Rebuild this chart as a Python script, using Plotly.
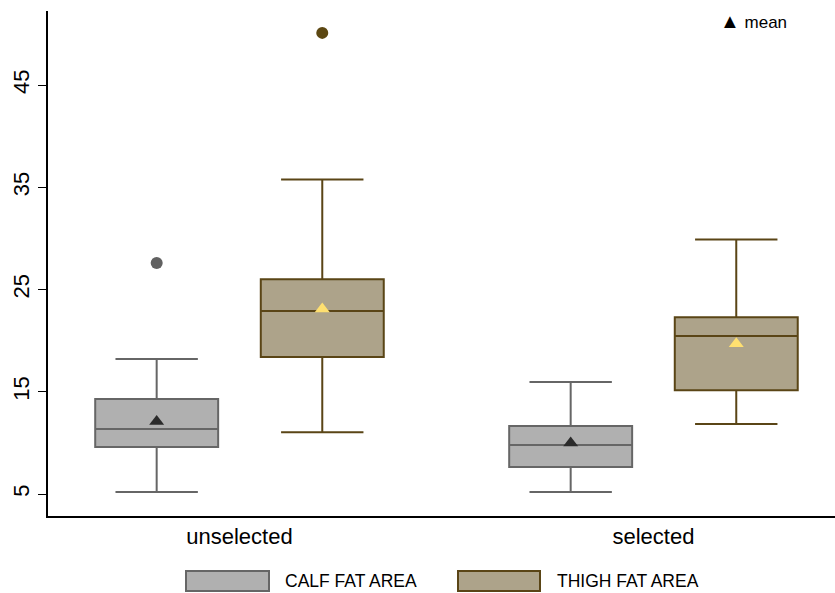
import plotly.graph_objects as go

# ---------------- data ----------------
groups = ["unselected", "selected"]
series_names = ["CALF FAT AREA", "THIGH FAT AREA"]

calf_q1 = [9.6, 7.65]
calf_median = [11.35, 9.8]
calf_q3 = [14.3, 11.65]
calf_lower = [5.2, 5.2]
calf_upper = [18.2, 15.95]
calf_mean = [12.1, 10.0]
calf_outlier_group = ["unselected"]
calf_outlier_value = [27.6]

thigh_q1 = [18.4, 15.15]
thigh_median = [22.9, 20.45]
thigh_q3 = [26.0, 22.3]
thigh_lower = [11.05, 11.85]
thigh_upper = [35.75, 29.9]
thigh_mean = [23.1, 19.7]
thigh_outlier_group = ["unselected"]
thigh_outlier_value = [50.1]

y_ticks = [5, 15, 25, 35, 45]

# ---------------- style ----------------
FONT = "Liberation Sans, Arial, sans-serif"
calf_fill, calf_line = "#b0b0b0", "#666666"
thigh_fill, thigh_line = "#ada38a", "#5a4516"
calf_out_col, thigh_out_col = "#616161", "#5c4712"
calf_mean_col, thigh_mean_col = "#2b2b2b", "#ffe070"

OFFSET = 0.2
BOX_W = 0.297

W, H = 835, 593
ML, MR, MT, MB = 48, 0, 11, 77
PW, PH = W - ML - MR, H - MT - MB


def px_x(px):
    return (px - ML) / PW


def px_y(py):
    return (H - MB - py) / PH


gidx = {g: i for i, g in enumerate(groups)}

fig = go.Figure()

specs = [
    (calf_q1, calf_median, calf_q3, calf_lower, calf_upper, calf_mean,
     calf_outlier_group, calf_outlier_value, calf_fill, calf_line,
     calf_out_col, calf_mean_col, -OFFSET),
    (thigh_q1, thigh_median, thigh_q3, thigh_lower, thigh_upper, thigh_mean,
     thigh_outlier_group, thigh_outlier_value, thigh_fill, thigh_line,
     thigh_out_col, thigh_mean_col, OFFSET),
]

for name, (q1, med, q3, lo, hi, mn, og, ov, fill, line, ocol, mcol, off) in zip(series_names, specs):
    xs = [i + off for i in range(len(groups))]
    fig.add_trace(go.Box(
        name=name, x=xs, q1=q1, median=med, q3=q3,
        lowerfence=lo, upperfence=hi,
        width=BOX_W, whiskerwidth=0.67,
        fillcolor=fill, line=dict(color=line, width=2),
        boxpoints=False, showlegend=False, hoverinfo="skip",
    ))
    fig.add_trace(go.Scatter(
        x=xs, y=mn, mode="markers",
        marker=dict(symbol="triangle-up", size=13, color=mcol),
        showlegend=False, hoverinfo="skip",
    ))
    fig.add_trace(go.Scatter(
        x=[gidx[g] + off for g in og], y=ov, mode="markers",
        marker=dict(symbol="circle", size=12, color=ocol),
        showlegend=False, hoverinfo="skip",
    ))

# custom legend
shapes = []
annotations = []
legend_items = [
    (series_names[0], calf_fill, calf_line, 186, 269, 283),
    (series_names[1], thigh_fill, thigh_line, 458, 540, 555),
]
for name, fill, line, x0, x1, tx in legend_items:
    shapes.append(dict(type="rect", xref="paper", yref="paper",
                       x0=px_x(x0), x1=px_x(x1), y0=px_y(591), y1=px_y(571),
                       fillcolor=fill, line=dict(color=line, width=2)))
    annotations.append(dict(text=name, xref="paper", yref="paper",
                            x=px_x(tx), y=px_y(581), xanchor="left", yanchor="middle",
                            showarrow=False, font=dict(family=FONT, size=17.5, color="black")))

annotations.append(dict(text="<span style='font-size:20px'>▲</span> mean", xref="paper", yref="paper",
                        x=px_x(718), y=px_y(21), xanchor="left", yanchor="middle",
                        showarrow=False, font=dict(family=FONT, size=17, color="black")))

fig.update_layout(
    width=W, height=H,
    margin=dict(l=ML, r=MR, t=MT, b=MB),
    paper_bgcolor="white", plot_bgcolor="white",
    font=dict(family=FONT, color="black"),
    shapes=shapes, annotations=annotations,
    xaxis=dict(range=[-0.4625, 1.4385], tickvals=list(range(len(groups))), ticktext=groups,
               showgrid=False, zeroline=False, showline=True, linecolor="black", linewidth=1.5,
               ticks="", tickfont=dict(size=22, family=FONT, color="black")),
    yaxis=dict(range=[2.85, 52.24], tickvals=y_ticks, tickangle=-90,
               showgrid=False, zeroline=False, showline=True, linecolor="black", linewidth=1.5,
               ticks="outside", ticklen=8, tickcolor="black", tickwidth=1,
               tickfont=dict(size=22, family=FONT, color="black")),
)

fig.write_html("out.html", config={"displayModeBar": False},
               post_script="document.body.style.margin='0';document.body.style.overflow='hidden';")
